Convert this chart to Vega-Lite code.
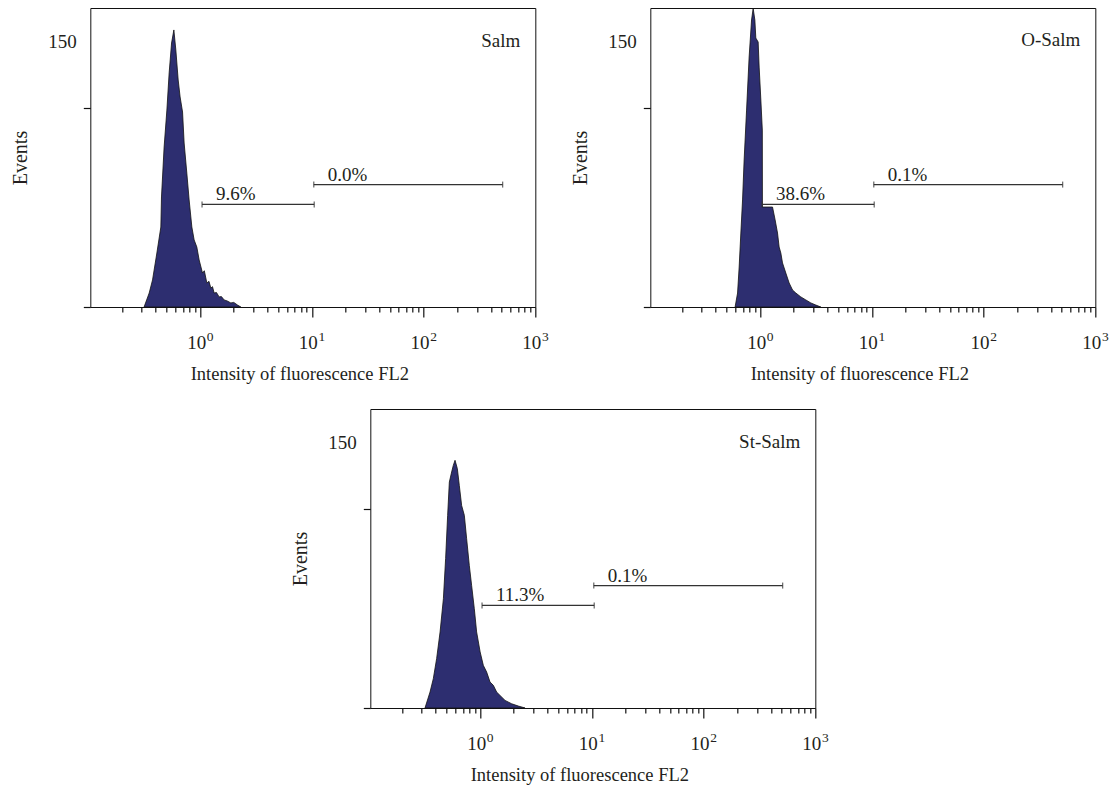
{
  "$schema": "https://vega.github.io/schema/vega-lite/v6.json",
  "padding": {"left": 10, "top": 6, "right": 5, "bottom": 5},
  "background": "white",
  "datasets": {
    "hist": [
      {"sample": "Salm", "intensity": 0.315, "events": 0},
      {"sample": "Salm", "intensity": 0.35, "events": 7.9},
      {"sample": "Salm", "intensity": 0.375, "events": 15.3},
      {"sample": "Salm", "intensity": 0.41, "events": 30.5},
      {"sample": "Salm", "intensity": 0.445, "events": 45.2},
      {"sample": "Salm", "intensity": 0.451, "events": 62.2},
      {"sample": "Salm", "intensity": 0.476, "events": 90.4},
      {"sample": "Salm", "intensity": 0.504, "events": 111.3},
      {"sample": "Salm", "intensity": 0.528, "events": 132.3},
      {"sample": "Salm", "intensity": 0.555, "events": 149.2},
      {"sample": "Salm", "intensity": 0.582, "events": 156.6},
      {"sample": "Salm", "intensity": 0.606, "events": 145.3},
      {"sample": "Salm", "intensity": 0.636, "events": 128.3},
      {"sample": "Salm", "intensity": 0.662, "events": 118.7},
      {"sample": "Salm", "intensity": 0.696, "events": 110.2},
      {"sample": "Salm", "intensity": 0.719, "events": 92.7},
      {"sample": "Salm", "intensity": 0.76, "events": 75.7},
      {"sample": "Salm", "intensity": 0.797, "events": 60.5},
      {"sample": "Salm", "intensity": 0.843, "events": 45.2},
      {"sample": "Salm", "intensity": 0.884, "events": 37.9},
      {"sample": "Salm", "intensity": 0.934, "events": 33.9},
      {"sample": "Salm", "intensity": 0.98, "events": 26.6},
      {"sample": "Salm", "intensity": 1.05, "events": 19.2},
      {"sample": "Salm", "intensity": 1.09, "events": 20.5},
      {"sample": "Salm", "intensity": 1.148, "events": 13.6},
      {"sample": "Salm", "intensity": 1.2, "events": 14.5},
      {"sample": "Salm", "intensity": 1.247, "events": 10.7},
      {"sample": "Salm", "intensity": 1.29, "events": 11.5},
      {"sample": "Salm", "intensity": 1.335, "events": 7.9},
      {"sample": "Salm", "intensity": 1.4, "events": 8.2},
      {"sample": "Salm", "intensity": 1.479, "events": 5.7},
      {"sample": "Salm", "intensity": 1.55, "events": 5.9},
      {"sample": "Salm", "intensity": 1.64, "events": 4.0},
      {"sample": "Salm", "intensity": 1.75, "events": 3.4},
      {"sample": "Salm", "intensity": 1.883, "events": 2.3},
      {"sample": "Salm", "intensity": 2.0, "events": 2.6},
      {"sample": "Salm", "intensity": 2.161, "events": 1.1},
      {"sample": "Salm", "intensity": 2.314, "events": 0},
      {"sample": "O-Salm", "intensity": 0.597, "events": 0},
      {"sample": "O-Salm", "intensity": 0.628, "events": 7.9},
      {"sample": "O-Salm", "intensity": 0.649, "events": 22.6},
      {"sample": "O-Salm", "intensity": 0.672, "events": 41.8},
      {"sample": "O-Salm", "intensity": 0.696, "events": 60.5},
      {"sample": "O-Salm", "intensity": 0.719, "events": 83.1},
      {"sample": "O-Salm", "intensity": 0.756, "events": 111.3},
      {"sample": "O-Salm", "intensity": 0.797, "events": 141.3},
      {"sample": "O-Salm", "intensity": 0.838, "events": 162.2},
      {"sample": "O-Salm", "intensity": 0.866, "events": 168.8},
      {"sample": "O-Salm", "intensity": 0.897, "events": 162.2},
      {"sample": "O-Salm", "intensity": 0.915, "events": 152.0},
      {"sample": "O-Salm", "intensity": 0.96, "events": 149.8},
      {"sample": "O-Salm", "intensity": 0.98, "events": 135.6},
      {"sample": "O-Salm", "intensity": 1.015, "events": 117.0},
      {"sample": "O-Salm", "intensity": 1.046, "events": 100.0},
      {"sample": "O-Salm", "intensity": 1.048, "events": 56.5},
      {"sample": "O-Salm", "intensity": 1.291, "events": 56.5},
      {"sample": "O-Salm", "intensity": 1.362, "events": 49.2},
      {"sample": "O-Salm", "intensity": 1.431, "events": 41.8},
      {"sample": "O-Salm", "intensity": 1.479, "events": 33.9},
      {"sample": "O-Salm", "intensity": 1.532, "events": 30.5},
      {"sample": "O-Salm", "intensity": 1.586, "events": 24.9},
      {"sample": "O-Salm", "intensity": 1.698, "events": 19.2},
      {"sample": "O-Salm", "intensity": 1.818, "events": 13.6},
      {"sample": "O-Salm", "intensity": 1.95, "events": 9.6},
      {"sample": "O-Salm", "intensity": 2.087, "events": 7.9},
      {"sample": "O-Salm", "intensity": 2.314, "events": 5.7},
      {"sample": "O-Salm", "intensity": 2.565, "events": 4.0},
      {"sample": "O-Salm", "intensity": 2.843, "events": 2.3},
      {"sample": "O-Salm", "intensity": 3.151, "events": 1.1},
      {"sample": "O-Salm", "intensity": 3.494, "events": 0},
      {"sample": "St-Salm", "intensity": 0.321, "events": 0},
      {"sample": "St-Salm", "intensity": 0.356, "events": 9.0},
      {"sample": "St-Salm", "intensity": 0.381, "events": 16.6},
      {"sample": "St-Salm", "intensity": 0.408, "events": 27.9},
      {"sample": "St-Salm", "intensity": 0.438, "events": 43.0},
      {"sample": "St-Salm", "intensity": 0.469, "events": 61.8},
      {"sample": "St-Salm", "intensity": 0.491, "events": 84.4},
      {"sample": "St-Salm", "intensity": 0.512, "events": 108.9},
      {"sample": "St-Salm", "intensity": 0.53, "events": 127.7},
      {"sample": "St-Salm", "intensity": 0.556, "events": 133.4},
      {"sample": "St-Salm", "intensity": 0.575, "events": 137.1},
      {"sample": "St-Salm", "intensity": 0.596, "events": 140.0},
      {"sample": "St-Salm", "intensity": 0.625, "events": 135.3},
      {"sample": "St-Salm", "intensity": 0.651, "events": 125.8},
      {"sample": "St-Salm", "intensity": 0.683, "events": 114.5},
      {"sample": "St-Salm", "intensity": 0.722, "events": 108.9},
      {"sample": "St-Salm", "intensity": 0.757, "events": 95.7},
      {"sample": "St-Salm", "intensity": 0.8, "events": 80.6},
      {"sample": "St-Salm", "intensity": 0.839, "events": 69.3},
      {"sample": "St-Salm", "intensity": 0.887, "events": 56.1},
      {"sample": "St-Salm", "intensity": 0.93, "events": 43.0},
      {"sample": "St-Salm", "intensity": 1.0, "events": 31.7},
      {"sample": "St-Salm", "intensity": 1.068, "events": 24.1},
      {"sample": "St-Salm", "intensity": 1.144, "events": 20.3},
      {"sample": "St-Salm", "intensity": 1.226, "events": 14.7},
      {"sample": "St-Salm", "intensity": 1.313, "events": 12.8},
      {"sample": "St-Salm", "intensity": 1.405, "events": 9.0},
      {"sample": "St-Salm", "intensity": 1.507, "events": 7.1},
      {"sample": "St-Salm", "intensity": 1.671, "events": 4.3},
      {"sample": "St-Salm", "intensity": 1.914, "events": 2.4},
      {"sample": "St-Salm", "intensity": 2.198, "events": 1.1},
      {"sample": "St-Salm", "intensity": 2.523, "events": 0}
    ],
    "gates": [
      {"sample": "Salm", "x1": 1.04, "x2": 10.5, "level": 58, "label": "9.6%"},
      {"sample": "Salm", "x1": 10.4, "x2": 510, "level": 69.2, "label": "0.0%"},
      {"sample": "O-Salm", "x1": 1.04, "x2": 10.5, "level": 58, "label": "38.6%"},
      {"sample": "O-Salm", "x1": 10.4, "x2": 510, "level": 69.2, "label": "0.1%"},
      {"sample": "St-Salm", "x1": 1.04, "x2": 10.5, "level": 58, "label": "11.3%"},
      {"sample": "St-Salm", "x1": 10.4, "x2": 510, "level": 69.2, "label": "0.1%"}
    ]
  },
  "vconcat": [
    {
      "hconcat": [
        {
          "width": 445, "height": 299,
          "title": {"text": "Salm", "anchor": "end", "frame": "group", "offset": -43, "dx": -15},
          "layer": [
            {
              "data": {"name": "hist"},
              "transform": [{"filter": "datum.sample == 'Salm'"}],
              "mark": {"type": "area", "color": "#2d2e70", "stroke": "#111111", "strokeWidth": 0.8, "interpolate": "linear"},
              "encoding": {
                "x": {"field": "intensity", "type": "quantitative", "scale": {"type": "log", "domain": [0.104, 1000], "nice": false},
                  "axis": {"orient": "bottom", "values": [1, 10, 100, 1000], "labelExpr": "'10'", "labelOffset": -4, "tickSize": 10, "labelPadding": 16, "labelFlush": false, "labelOverlap": false, "title": "Intensity of fluorescence FL2", "titleFontSize": 18.5, "titleX": 209, "titleAlign": "center", "titlePadding": 12, "zindex": 1}},
                "y": {"field": "events", "type": "quantitative", "scale": {"domain": [0, 169], "nice": false},
                  "axis": {"orient": "left", "values": [0, 112.6], "labels": false, "tickSize": 7, "title": null, "zindex": 1}}
              }
            },
            {
              "data": {"name": "gates"},
              "transform": [{"filter": "datum.sample == 'Salm'"}],
              "mark": {"type": "rule", "color": "#333333", "strokeWidth": 1.3},
              "encoding": {
                "x": {"field": "x1", "type": "quantitative", "scale": {"type": "log", "domain": [0.104, 1000], "nice": false},
                  "axis": {"orient": "bottom", "values": [0.2, 0.3, 0.4, 0.5, 0.6, 0.7, 0.8, 0.9, 2, 3, 4, 5, 6, 7, 8, 9, 20, 30, 40, 50, 60, 70, 80, 90, 200, 300, 400, 500, 600, 700, 800, 900], "labels": false, "tickSize": 5, "title": null, "zindex": 1}},
                "x2": {"field": "x2"},
                "y": {"field": "level", "type": "quantitative", "scale": {"domain": [0, 169], "nice": false},
                  "axis": {"orient": "left", "values": [150], "ticks": false, "labelPadding": 14, "title": "Events", "titlePadding": 17}}
              }
            },
            {
              "data": {"name": "gates"},
              "transform": [{"filter": "datum.sample == 'Salm'"}, {"fold": ["x1", "x2"], "as": ["end", "xpos"]}],
              "mark": {"type": "tick", "orient": "vertical", "size": 6, "thickness": 1.3, "color": "#333333"},
              "encoding": {
                "x": {"field": "xpos", "type": "quantitative", "scale": {"type": "log", "domain": [0.104, 1000], "nice": false},
                  "axis": {"orient": "bottom", "values": [1, 10, 100, 1000], "labelExpr": "datum.value == 1 ? '0' : datum.value == 10 ? '1' : datum.value == 100 ? '2' : '3'", "ticks": false, "labelFontSize": 13.5, "labelOffset": 9.5, "labelPadding": 22, "labelFlush": false, "labelOverlap": false, "title": null}},
                "y": {"field": "level", "type": "quantitative", "axis": null}
              }
            },
            {
              "data": {"name": "gates"},
              "transform": [{"filter": "datum.sample == 'Salm'"}],
              "mark": {"type": "text", "align": "left", "baseline": "alphabetic", "dx": 14, "dy": -4, "fontSize": 19, "font": "Liberation Serif", "color": "#231f20"},
              "encoding": {
                "x": {"field": "x1", "type": "quantitative", "scale": {"type": "log", "domain": [0.104, 1000], "nice": false}, "axis": null},
                "y": {"field": "level", "type": "quantitative", "axis": null},
                "text": {"field": "label"}
              }
            }
          ],
          "resolve": {"axis": {"x": "independent", "y": "independent"}}
        },
        {
          "width": 445, "height": 299,
          "title": {"text": "O-Salm", "anchor": "end", "frame": "group", "offset": -43, "dx": -15},
          "layer": [
            {
              "data": {"name": "hist"},
              "transform": [{"filter": "datum.sample == 'O-Salm'"}],
              "mark": {"type": "area", "color": "#2d2e70", "stroke": "#111111", "strokeWidth": 0.8, "interpolate": "linear"},
              "encoding": {
                "x": {"field": "intensity", "type": "quantitative", "scale": {"type": "log", "domain": [0.104, 1000], "nice": false},
                  "axis": {"orient": "bottom", "values": [1, 10, 100, 1000], "labelExpr": "'10'", "labelOffset": -4, "tickSize": 10, "labelPadding": 16, "labelFlush": false, "labelOverlap": false, "title": "Intensity of fluorescence FL2", "titleFontSize": 18.5, "titleX": 209, "titleAlign": "center", "titlePadding": 12, "zindex": 1}},
                "y": {"field": "events", "type": "quantitative", "scale": {"domain": [0, 169], "nice": false},
                  "axis": {"orient": "left", "values": [0, 112.6], "labels": false, "tickSize": 7, "title": null, "zindex": 1}}
              }
            },
            {
              "data": {"name": "gates"},
              "transform": [{"filter": "datum.sample == 'O-Salm'"}],
              "mark": {"type": "rule", "color": "#333333", "strokeWidth": 1.3},
              "encoding": {
                "x": {"field": "x1", "type": "quantitative", "scale": {"type": "log", "domain": [0.104, 1000], "nice": false},
                  "axis": {"orient": "bottom", "values": [0.2, 0.3, 0.4, 0.5, 0.6, 0.7, 0.8, 0.9, 2, 3, 4, 5, 6, 7, 8, 9, 20, 30, 40, 50, 60, 70, 80, 90, 200, 300, 400, 500, 600, 700, 800, 900], "labels": false, "tickSize": 5, "title": null, "zindex": 1}},
                "x2": {"field": "x2"},
                "y": {"field": "level", "type": "quantitative", "scale": {"domain": [0, 169], "nice": false},
                  "axis": {"orient": "left", "values": [150], "ticks": false, "labelPadding": 14, "title": "Events", "titlePadding": 17}}
              }
            },
            {
              "data": {"name": "gates"},
              "transform": [{"filter": "datum.sample == 'O-Salm'"}, {"fold": ["x1", "x2"], "as": ["end", "xpos"]}],
              "mark": {"type": "tick", "orient": "vertical", "size": 6, "thickness": 1.3, "color": "#333333"},
              "encoding": {
                "x": {"field": "xpos", "type": "quantitative", "scale": {"type": "log", "domain": [0.104, 1000], "nice": false},
                  "axis": {"orient": "bottom", "values": [1, 10, 100, 1000], "labelExpr": "datum.value == 1 ? '0' : datum.value == 10 ? '1' : datum.value == 100 ? '2' : '3'", "ticks": false, "labelFontSize": 13.5, "labelOffset": 9.5, "labelPadding": 22, "labelFlush": false, "labelOverlap": false, "title": null}},
                "y": {"field": "level", "type": "quantitative", "axis": null}
              }
            },
            {
              "data": {"name": "gates"},
              "transform": [{"filter": "datum.sample == 'O-Salm'"}],
              "mark": {"type": "text", "align": "left", "baseline": "alphabetic", "dx": 14, "dy": -4, "fontSize": 19, "font": "Liberation Serif", "color": "#231f20"},
              "encoding": {
                "x": {"field": "x1", "type": "quantitative", "scale": {"type": "log", "domain": [0.104, 1000], "nice": false}, "axis": null},
                "y": {"field": "level", "type": "quantitative", "axis": null},
                "text": {"field": "label"}
              }
            }
          ],
          "resolve": {"axis": {"x": "independent", "y": "independent"}}
        }
      ],
      "spacing": 115,
      "bounds": "flush"
    },
    {
      "width": 445, "height": 299,
      "title": {"text": "St-Salm", "anchor": "end", "frame": "group", "offset": -43, "dx": -15},
      "layer": [
        {
          "data": {"name": "hist"},
          "transform": [{"filter": "datum.sample == 'St-Salm'"}],
          "mark": {"type": "area", "color": "#2d2e70", "stroke": "#111111", "strokeWidth": 0.8, "interpolate": "linear"},
          "encoding": {
            "x": {"field": "intensity", "type": "quantitative", "scale": {"type": "log", "domain": [0.104, 1000], "nice": false},
              "axis": {"orient": "bottom", "values": [1, 10, 100, 1000], "labelExpr": "'10'", "labelOffset": -4, "tickSize": 10, "labelPadding": 16, "labelFlush": false, "labelOverlap": false, "title": "Intensity of fluorescence FL2", "titleFontSize": 18.5, "titleX": 209, "titleAlign": "center", "titlePadding": 12, "zindex": 1}},
            "y": {"field": "events", "type": "quantitative", "scale": {"domain": [0, 169], "nice": false},
              "axis": {"orient": "left", "values": [0, 112.6], "labels": false, "tickSize": 7, "title": null, "zindex": 1}}
          }
        },
        {
          "data": {"name": "gates"},
          "transform": [{"filter": "datum.sample == 'St-Salm'"}],
          "mark": {"type": "rule", "color": "#333333", "strokeWidth": 1.3},
          "encoding": {
            "x": {"field": "x1", "type": "quantitative", "scale": {"type": "log", "domain": [0.104, 1000], "nice": false},
              "axis": {"orient": "bottom", "values": [0.2, 0.3, 0.4, 0.5, 0.6, 0.7, 0.8, 0.9, 2, 3, 4, 5, 6, 7, 8, 9, 20, 30, 40, 50, 60, 70, 80, 90, 200, 300, 400, 500, 600, 700, 800, 900], "labels": false, "tickSize": 5, "title": null, "zindex": 1}},
            "x2": {"field": "x2"},
            "y": {"field": "level", "type": "quantitative", "scale": {"domain": [0, 169], "nice": false},
              "axis": {"orient": "left", "values": [150], "ticks": false, "labelPadding": 14, "title": "Events", "titlePadding": 17}}
          }
        },
        {
          "data": {"name": "gates"},
          "transform": [{"filter": "datum.sample == 'St-Salm'"}, {"fold": ["x1", "x2"], "as": ["end", "xpos"]}],
          "mark": {"type": "tick", "orient": "vertical", "size": 6, "thickness": 1.3, "color": "#333333"},
          "encoding": {
            "x": {"field": "xpos", "type": "quantitative", "scale": {"type": "log", "domain": [0.104, 1000], "nice": false},
              "axis": {"orient": "bottom", "values": [1, 10, 100, 1000], "labelExpr": "datum.value == 1 ? '0' : datum.value == 10 ? '1' : datum.value == 100 ? '2' : '3'", "ticks": false, "labelFontSize": 13.5, "labelOffset": 9.5, "labelPadding": 22, "labelFlush": false, "labelOverlap": false, "title": null}},
            "y": {"field": "level", "type": "quantitative", "axis": null}
          }
        },
        {
          "data": {"name": "gates"},
          "transform": [{"filter": "datum.sample == 'St-Salm'"}],
          "mark": {"type": "text", "align": "left", "baseline": "alphabetic", "dx": 14, "dy": -4, "fontSize": 19, "font": "Liberation Serif", "color": "#231f20"},
          "encoding": {
            "x": {"field": "x1", "type": "quantitative", "scale": {"type": "log", "domain": [0.104, 1000], "nice": false}, "axis": null},
            "y": {"field": "level", "type": "quantitative", "axis": null},
            "text": {"field": "label"}
          }
        }
      ],
      "resolve": {"axis": {"x": "independent", "y": "independent"}}
    }
  ],
  "spacing": 25,
  "center": true,
  "config": {
    "font": "Liberation Serif",
    "view": {"stroke": "#111111", "strokeWidth": 1},
    "axis": {"labelFont": "Liberation Serif", "titleFont": "Liberation Serif", "labelFontSize": 19, "titleFontSize": 20, "titleFontWeight": "normal", "labelColor": "#231f20", "titleColor": "#231f20", "tickColor": "#111111", "tickWidth": 1.2, "grid": false, "domain": false},
    "title": {"font": "Liberation Serif", "fontSize": 19, "fontWeight": "normal", "color": "#231f20"}
  }
}
